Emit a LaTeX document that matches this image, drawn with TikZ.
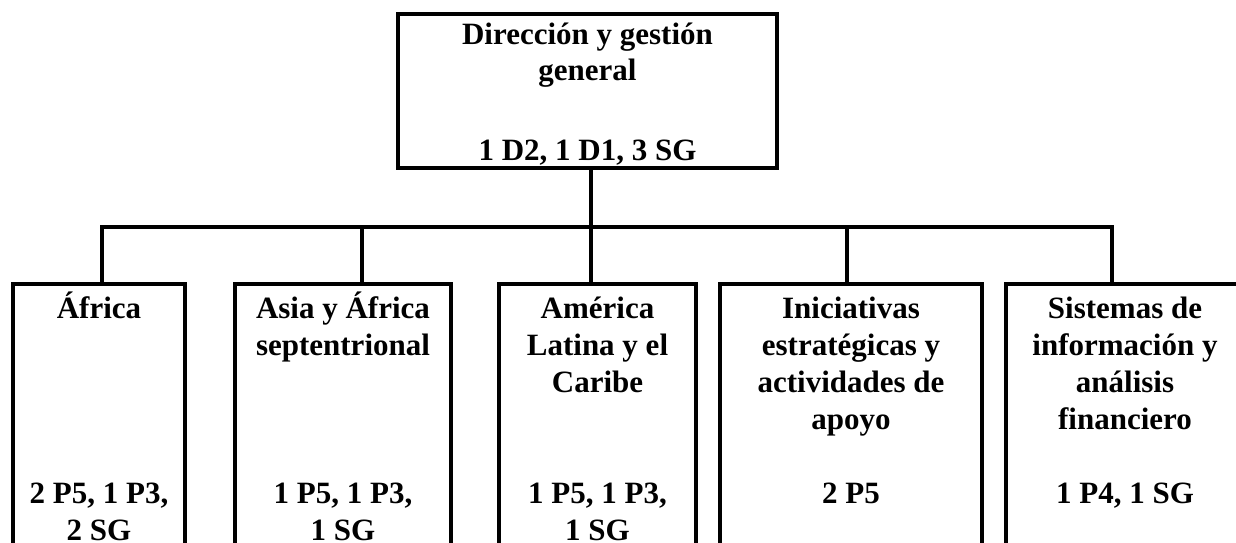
\documentclass[tikz,border=0pt]{standalone}
\usepackage{fontspec}
\setmainfont{Liberation Serif}
\usetikzlibrary{positioning}

\begin{document}
\begin{tikzpicture}[
    x=1pt, y=-1pt,
    node distance=50pt,
    unit/.style={rectangle, draw=black, line width=3.3pt, minimum height=276pt, outer sep=0pt, inner sep=0pt},
    head/.style={rectangle, draw=black, line width=3.3pt, minimum width=379pt, minimum height=154pt, outer sep=0pt, inner sep=0pt},
    label text/.style={font=\fontsize{31}{37}\selectfont\bfseries, align=center, anchor=base, inner sep=0pt},
    link/.style={line width=3.3pt}
]
    \useasboundingbox (0,0) rectangle (1236,543);

    % top box (base = last line)
    \node[head, anchor=north west] (dir) at (398,14) {};
    \node[label text, font=\fontsize{31}{36}\selectfont\bfseries] (dir-t) at (dir.north |- 0,81) {Dirección y gestión\\general};
    \node[label text] (dir-n) at (dir.north |- 0,160) {1 D2, 1 D1, 3 SG};

    % units
    \node[unit, minimum width=172pt, anchor=north west] (africa) at (13,284) {};
    \node[unit, minimum width=216pt, right=50pt of africa] (asia) {};
    \node[unit, minimum width=197pt, right=48pt of asia] (america) {};
    \node[unit, minimum width=262pt, right=24pt of america] (iniciativas) {};
    \node[unit, minimum width=238pt, right=24pt of iniciativas] (sistemas) {};

    \node[label text] (africa-t) at (africa.north |- 0,318) {África};
    \node[label text] (asia-t) at (asia.north |- 0,355) {Asia y África\\septentrional};
    \node[label text] (america-t) at (america.north |- 0,392) {América\\Latina y el\\Caribe};
    \node[label text] (iniciativas-t) at (iniciativas.north |- 0,429) {Iniciativas\\estratégicas y\\actividades de\\apoyo};
    \node[label text] (sistemas-t) at (sistemas.north |- 0,429) {Sistemas de\\información y\\análisis\\financiero};

    \node[label text] (africa-n) at (africa.north |- 0,540) {2 P5, 1 P3,\\2 SG};
    \node[label text] (asia-n) at (asia.north |- 0,540) {1 P5, 1 P3,\\1 SG};
    \node[label text] (america-n) at (america.north |- 0,540) {1 P5, 1 P3,\\1 SG};
    \node[label text] (iniciativas-n) at (iniciativas.north |- 0,503) {2 P5};
    \node[label text] (sistemas-n) at (sistemas.north |- 0,503) {1 P4, 1 SG};

    % connectors
    \coordinate (j0) at (591,227);
    \coordinate (j1) at (102,227);
    \coordinate (j2) at (362,227);
    \coordinate (j3) at (591,227);
    \coordinate (j4) at (847,227);
    \coordinate (j5) at (1112,227);

    \draw[link] (dir.south -| j0) -- (j0);
    \draw[link] (j1 |- africa.north) -- (j1) -- (j5) -- (j5 |- sistemas.north);
    \draw[link] (j2) -- (j2 |- asia.north);
    \draw[link] (j3) -- (j3 |- america.north);
    \draw[link] (j4) -- (j4 |- iniciativas.north);
\end{tikzpicture}
\end{document}
